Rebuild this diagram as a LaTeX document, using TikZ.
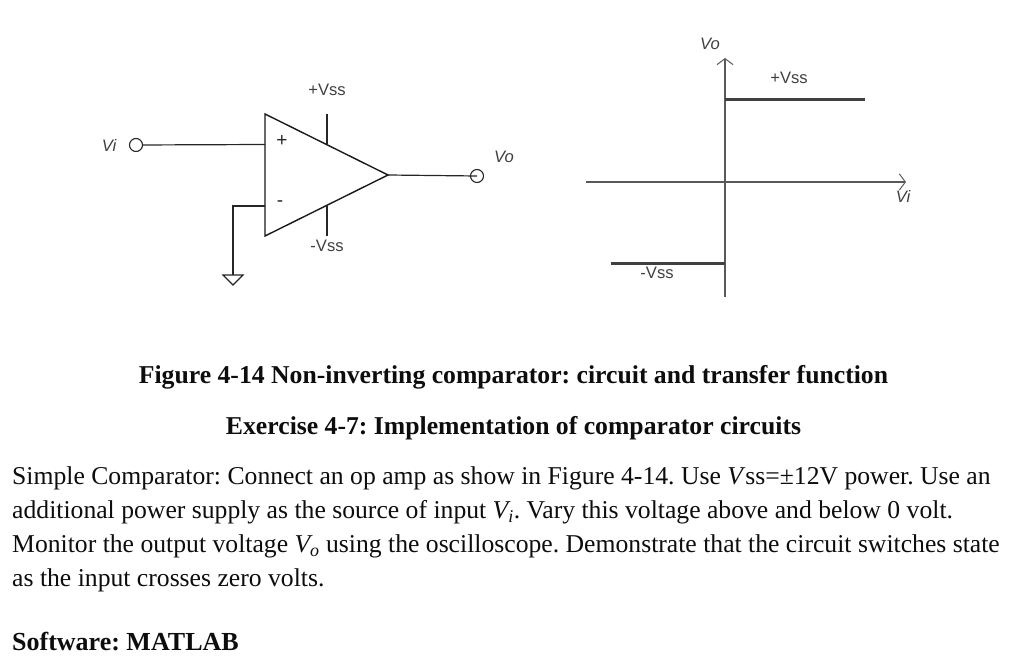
\documentclass[tikz,border=0pt]{standalone}
\usepackage{fontspec}
\setmainfont{Liberation Serif}
\newfontfamily\lab{Liberation Sans}
\usetikzlibrary{arrows.meta}
\frenchspacing
\tikzset{
  x=1pt,y=-1pt,
  wire/.style={draw=black!85,line width=1.2pt},
  gwire/.style={draw=black!65,line width=1.2pt},
  level/.style={draw=black!75,line width=2.8pt},
  term/.style={circle,draw=black!85,line width=1.1pt,minimum size=13pt,inner sep=0pt,fill=none},
  lbl/.style={font=\lab\fontsize{16.6}{18}\selectfont,text=black!75,inner sep=0pt},
  ilbl/.style={font=\lab\itshape\fontsize{16.6}{18}\selectfont,text=black!75,inner sep=0pt},
  sign/.style={font=\lab\fontsize{19}{20}\selectfont,text=black!85,inner sep=0pt},
  body/.style={font=\fontsize{25.67}{28}\selectfont,anchor=base west,inner sep=0pt,text=black!95},
  head/.style={font=\bfseries\fontsize{25.7}{28}\selectfont,anchor=base,inner sep=0pt,text=black!95},
  axis/.style={gwire,-{Straight Barb[length=6pt,width=16pt,line width=1pt]}},
}
\begin{document}
\begin{tikzpicture}
\useasboundingbox (0,0) rectangle (1024,658);
% op amp
\coordinate (ta) at (265,114);
\coordinate (tb) at (265,236);
\coordinate (tc) at (388,175);
\coordinate (inp) at (265,144.5);
\coordinate (inm) at (265,206);
\coordinate (vpt) at (327,144);
\coordinate (vpe) at (327,114);
\coordinate (vmb) at (327,206);
\coordinate (vme) at (327,236);
\coordinate (gt) at (233,275);
\coordinate (gc) at (233,206);
\draw[line width=1.4pt,draw=black!90,line join=miter] (ta) -- (tc) -- (tb) -- cycle;
\node[term] (vi) at (136,145) {};
\node[term] (vo) at (477,176) {};
\draw[wire] (vi) -- (inp);
\draw[wire] (tc) -- (vo.center);
\draw[wire] (vpe) -- (vpt);
\draw[wire] (vmb) -- (vme);
\draw[wire] (inm) -- (gc) -- (gt);
\draw[line width=1.2pt,draw=black!85] (223,275) -- (243,275) -- (233,285) -- cycle;
\node[ilbl] (lvi) at (109,145) {Vi};
\node[ilbl] (lvo) at (504,156.5) {Vo};
\node[lbl] (lvp) at (327,89.5) {+Vss};
\node[lbl] (lvm) at (327,246) {-Vss};
\node[sign] (plus) at (282,141) {+};
\node[sign] (minus) at (280,204) {-};
% transfer function
\coordinate (yb) at (725,297);
\coordinate (yt) at (725,58);
\coordinate (xl) at (586,182);
\coordinate (xr) at (906,182);
\coordinate (hi0) at (725,99.5);
\coordinate (hi1) at (865,99.5);
\coordinate (lo0) at (611,263.6);
\coordinate (lo1) at (725,263.6);
\draw[axis] (yb) -- (yt);
\draw[axis] (xl) -- (xr);
\draw[level] (hi0) -- (hi1);
\draw[level] (lo0) -- (lo1);
\node[ilbl] (gvo) at (710,43.5) {Vo};
\node[ilbl] (gvi) at (903,196) {Vi};
\node[lbl] (gvp) at (789,77.5) {+Vss};
\node[lbl] (gvm) at (657,273) {-Vss};
% text
\node[head] (cap) at (513.5,383.5) {Figure 4-14 Non-inverting comparator: circuit and transfer function};
\node[head] (ex) at (513.5,434.5) {Exercise 4-7: Implementation of comparator circuits};
\node[body] (l1) at (12,484.5) {Simple Comparator: Connect an op amp as show in Figure 4-14. Use \textit{V}ss=±12V power. Use an};
\node[body] (l2) at (12,518.5) {additional power supply as the source of input \textit{V\textsubscript{i}}. Vary this voltage above and below 0 volt.};
\node[body] (l3) at (12,552.5) {Monitor the output voltage \textit{V\textsubscript{o}} using the oscilloscope. Demonstrate that the circuit switches state};
\node[body] (l4) at (12,586.5) {as the input crosses zero volts.};
\node[body,font=\bfseries\fontsize{26}{28}\selectfont] (sw) at (12,650.5) {Software: MATLAB};
\end{tikzpicture}
\end{document}
